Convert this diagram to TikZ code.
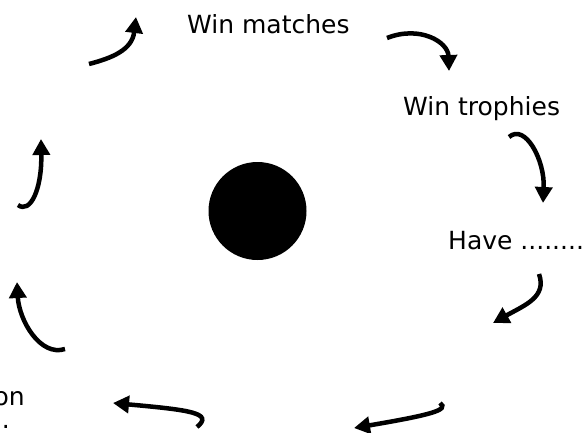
\documentclass[tikz,border=0pt]{standalone}
\usepackage{fontspec}
\setmainfont{DejaVu Sans}
\usetikzlibrary{arrows.meta}
\tikzset{
  arr/.style={line width=4.5pt,-{Triangle[length=16pt,width=17pt]}},
  lbl/.style={anchor=base west,inner sep=0pt,font=\fontsize{25}{30}\selectfont}
}
\begin{document}
\begin{tikzpicture}[x=1pt,y=-1pt]
\useasboundingbox (0,0) rectangle (583,432);
% centre
\node[circle,fill=black,minimum size=98pt,inner sep=0pt] (hub) at (257.5,211) {};
% labels
\node[lbl] (matches) at (187,33) {Win matches};
\node[lbl] (trophies) at (403,115) {Win trophies};
\node[lbl] (have) at (448,249) {Have .........};
\node[lbl,anchor=base east] (promo) at (25,405) {on};
\node[lbl,anchor=base east] (dots) at (10,428) {.};
% arrow ends
\coordinate (a1) at (387,38);  \coordinate (b1) at (449,71);
\coordinate (a2) at (509,137); \coordinate (b2) at (543,203);
\coordinate (a3) at (539,274); \coordinate (b3) at (493,323);
\coordinate (a4) at (440,403); \coordinate (b4) at (354,428);
\coordinate (a5) at (197,427); \coordinate (b5) at (113,403);
\coordinate (a6) at (65,349);  \coordinate (b6) at (17,282);
\coordinate (a7) at (18,205);  \coordinate (b7) at (41,139);
\coordinate (a8) at (89,64);   \coordinate (b8) at (136,17);
% arrows round the cycle
\draw[arr] (a1) .. controls (420,25) and (448,42) .. (b1);
\draw[arr] (a2) .. controls (525,123) and (545,160) .. (b2);
\draw[arr] (a3) .. controls (547,297) and (525,305) .. (b3);
\draw[arr] (a4) .. controls (450,410) and (430,415) .. (b4);
\draw[arr] (a5) .. controls (214,413) and (190,410) .. (b5);
\draw[arr] (a6) .. controls (40,357) and (19,320) .. (b6);
\draw[arr] (a7) .. controls (30,214) and (42,190) .. (b7);
\draw[arr] (a8) .. controls (112,58) and (132,50) .. (b8);
\end{tikzpicture}
\end{document}
